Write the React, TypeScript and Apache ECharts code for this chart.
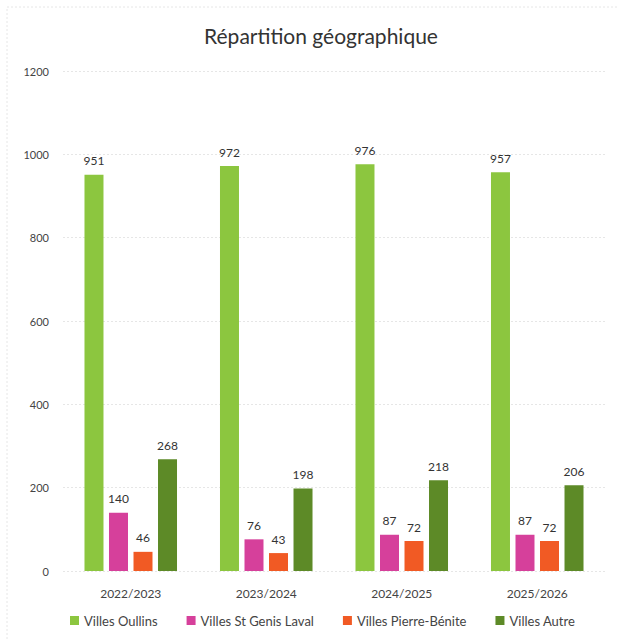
import React, { useEffect, useRef } from "react";
import * as echarts from "echarts";

const categories = ["2022/2023", "2023/2024", "2024/2025", "2025/2026"];
const seriesNames = ["Villes Oullins", "Villes St Genis Laval", "Villes Pierre-Bénite", "Villes Autre"];
const oullins = [951, 972, 976, 957];
const stGenis = [140, 76, 87, 87];
const pierreBenite = [46, 43, 72, 72];
const autre = [268, 198, 218, 206];
const colors = ["#8cc63f", "#d6409b", "#f15a24", "#5d8a27"];

export default function App() {
  const ref = useRef<HTMLDivElement>(null);
  useEffect(() => {
    const chart = echarts.init(ref.current!, null, { renderer: "svg" });
    const font = "Lato, 'Open Sans', sans-serif";
    const values = [oullins, stGenis, pierreBenite, autre];
    chart.setOption({
      animation: false,
      backgroundColor: "#ffffff",
      title: {
        text: "Répartition géographique",
        left: 316,
        textAlign: "center",
        top: 20,
        textStyle: { fontFamily: font, fontSize: 21, fontWeight: "normal", color: "#333" },
      },
      graphic: [
        {
          type: "rect",
          shape: { x: 7, y: 7, width: 640, height: 660 },
          style: { fill: "none", stroke: "#e6e6e6", lineWidth: 1, lineDash: [2, 2] },
          silent: true,
        },
      ],
      legend: {
        bottom: 7,
        left: 65,
        itemWidth: 9,
        itemHeight: 9,
        itemGap: 29,
        icon: "rect",
        textStyle: { fontFamily: font, fontSize: 13, color: "#444" },
        data: seriesNames,
      },
      grid: { left: 63, right: 13, top: 71, bottom: 68 },
      xAxis: {
        type: "category",
        data: categories,
        axisLine: { show: false },
        axisTick: { show: false },
        axisLabel: { fontFamily: font, fontSize: 12, color: "#444", margin: 16 },
      },
      yAxis: {
        type: "value",
        min: 0,
        max: 1200,
        interval: 200,
        axisLine: { show: false },
        axisTick: { show: false },
        axisLabel: {
          fontFamily: font,
          fontSize: 11,
          color: "#444",
          margin: 14,
          formatter: (v: number) => String(v),
        },
        splitLine: { lineStyle: { color: "#e6e6e6", type: [2, 2] } },
      },
      series: seriesNames.map((name, i) => ({
        name,
        type: "bar",
        data: values[i],
        barWidth: 19,
        barGap: "29%",
        itemStyle: { color: colors[i] },
        label: {
          show: true,
          position: "top",
          distance: 8,
          fontFamily: font,
          fontSize: 12,
          color: "#333",
        },
      })),
    });
    return () => chart.dispose();
  }, []);
  return <div ref={ref} style={{ width: 618, height: 639, position: "absolute", left: 0, top: 0 }} />;
}
